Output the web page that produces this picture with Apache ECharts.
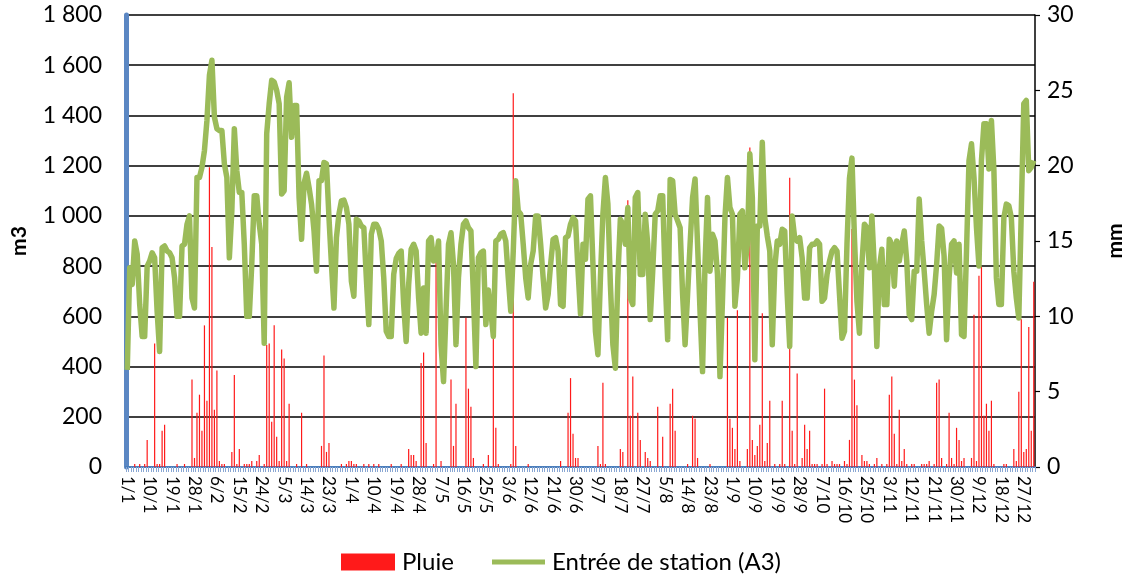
<!DOCTYPE html>
<html>
<head>
<meta charset="utf-8">
<script src="https://cdn.jsdelivr.net/npm/echarts@6/dist/echarts.min.js"></script>
<style>
html,body{margin:0;padding:0;background:#fff;}
#c{width:1134px;height:576px;}
</style>
</head>
<body>
<div id="c"></div>
<script>
// Daily inflow at station entrance (m3), one value per day of a 365-day year
const inflow = [
387, 793, 727, 900, 847, 647, 520, 520, 800, 820,
853, 833, 620, 460, 873, 880, 860, 853, 833, 753,
600, 600, 880, 887, 967, 1000, 673, 633, 1153, 1153,
1193, 1260, 1380, 1560, 1620, 1393, 1347, 1340, 1340, 1207,
1153, 833, 1020, 1347, 1180, 1093, 1093, 887, 600, 600,
807, 1080, 1080, 967, 887, 493, 1327, 1447, 1540, 1533,
1500, 1447, 1087, 1100, 1473, 1530, 1313, 1440, 1440, 1073,
907, 1130, 1170, 1113, 1047, 940, 780, 1140, 1140, 1213,
1207, 993, 807, 633, 913, 1007, 1060, 1063, 1033, 967,
740, 680, 987, 980, 960, 953, 753, 567, 927, 967,
967, 947, 900, 753, 540, 520, 520, 767, 830, 850,
860, 647, 500, 727, 867, 887, 860, 673, 533, 713,
533, 900, 913, 820, 827, 900, 487, 340, 620, 887,
933, 807, 487, 753, 887, 967, 980, 953, 940, 687,
400, 833, 853, 860, 567, 705, 620, 520, 900, 907,
927, 933, 900, 753, 620, 860, 1140, 1020, 1007, 887,
753, 673, 807, 860, 1000, 1000, 887, 753, 633, 687,
807, 907, 913, 860, 647, 640, 913, 920, 967, 993,
980, 785, 610, 887, 827, 1067, 1080, 807, 540, 447,
753, 1007, 1153, 1047, 727, 487, 393, 753, 987, 967,
887, 1033, 673, 647, 1073, 1093, 767, 767, 1007, 887,
587, 780, 1007, 1020, 1080, 1080, 753, 507, 1145, 1140,
1007, 980, 953, 687, 487, 687, 887, 1073, 1147, 887,
620, 380, 807, 1073, 780, 927, 900, 767, 360, 660,
993, 1153, 1033, 1007, 640, 753, 1007, 1020, 793, 887,
1247, 1073, 427, 960, 960, 1293, 993, 920, 860, 487,
793, 900, 887, 947, 940, 687, 480, 1000, 913, 900,
913, 833, 673, 673, 873, 887, 887, 900, 887, 660,
673, 767, 820, 860, 873, 860, 687, 513, 540, 887,
1150, 1230, 913, 660, 533, 807, 967, 953, 793, 1000,
793, 480, 793, 867, 647, 647, 907, 887, 720, 900,
820, 887, 940, 820, 607, 587, 780, 780, 1067, 900,
780, 647, 533, 620, 687, 807, 960, 950, 840, 507,
753, 887, 900, 773, 887, 527, 520, 860, 1220, 1287,
1153, 953, 800, 1220, 1367, 1367, 1187, 1380, 1180, 753,
647, 647, 993, 1047, 1040, 993, 780, 673, 593, 1020,
1447, 1460, 1180, 1193, 1220
];

// Rain (mm): [day index, mm] for each rainy day; all other days had no bar
const rainEvents = [
[3,0.2],[5,0.2],[7,0.2],[8,1.8],[11,8.2],[12,0.2],[13,0.2],[14,2.4],[15,2.8],[20,0.2],
[23,0.2],[26,5.8],[27,0.6],[28,3.6],[29,4.8],[30,2.4],[31,9.4],[32,4.4],[33,19.9],[34,14.6],
[35,3.8],[36,6.4],[37,0.4],[38,0.2],[39,0.2],[42,1.0],[43,6.1],[44,0.2],[45,1.2],[47,0.2],
[48,0.2],[49,0.2],[50,0.4],[52,0.4],[53,0.8],[55,0.2],[56,8.1],[57,8.2],[58,3.0],[59,9.4],
[60,2.0],[61,0.4],[62,7.8],[63,7.2],[64,0.4],[65,4.2],[68,0.2],[70,3.6],[72,0.2],[78,1.4],
[79,7.4],[80,1.0],[81,1.6],[86,0.2],[88,0.2],[89,0.4],[90,0.4],[91,0.2],[92,0.2],[95,0.2],
[97,0.2],[99,0.2],[101,0.2],[106,0.2],[110,0.2],[113,1.2],[114,0.8],[115,0.8],[116,0.4],[118,6.9],
[119,7.6],[120,1.6],[123,0.2],[124,13.7],[126,0.4],[130,5.8],[131,1.4],[132,4.2],[136,9.9],[137,5.2],
[138,4.0],[139,0.6],[143,0.2],[145,0.8],[147,8.6],[148,2.6],[149,0.2],[154,0.2],[155,24.8],[156,1.4],
[161,0.2],[174,0.4],[177,3.6],[178,5.9],[179,2.2],[180,0.6],[181,0.6],[189,1.4],[190,0.2],[191,5.6],
[192,0.2],[198,1.2],[199,1.0],[201,17.7],[202,3.4],[203,6.0],[205,3.6],[206,1.8],[208,1.0],[209,0.6],
[210,0.4],[213,4.0],[215,2.0],[218,4.2],[219,5.2],[220,2.4],[225,0.2],[227,3.4],[228,3.2],[229,0.6],
[234,0.2],[241,9.9],[242,3.2],[243,2.6],[244,1.2],[245,10.4],[246,0.4],[249,1.2],[250,21.2],[251,1.8],
[252,0.8],[253,1.4],[254,2.8],[255,10.2],[256,0.4],[257,1.6],[258,4.4],[260,0.2],[262,0.2],[263,4.4],
[264,0.2],[266,19.2],[267,2.4],[268,0.2],[269,6.2],[271,0.6],[272,2.8],[273,1.2],[274,2.4],[275,0.2],
[276,0.2],[277,0.2],[279,0.2],[280,5.2],[281,0.2],[283,0.4],[284,0.2],[285,0.2],[286,0.2],[288,0.4],
[289,0.2],[290,1.8],[291,15.8],[292,5.8],[293,4.1],[295,0.8],[296,0.4],[297,0.4],[298,0.2],[300,0.2],
[301,0.6],[303,0.2],[305,0.2],[306,4.8],[307,6.0],[308,2.2],[309,0.2],[310,3.8],[311,0.4],[312,1.2],
[313,0.2],[315,0.2],[316,0.2],[319,0.2],[320,0.2],[321,0.2],[322,0.4],[324,0.2],[325,5.6],[326,5.8],
[327,0.6],[329,0.2],[330,3.6],[331,0.6],[332,0.2],[333,2.6],[334,1.8],[335,0.4],[336,0.6],[339,0.6],
[340,10.1],[341,0.4],[342,12.7],[343,13.3],[344,3.4],[345,4.2],[346,2.4],[347,4.4],[348,0.2],[352,0.2],
[353,0.2],[356,1.2],[357,0.4],[358,5.0],[359,9.8],[360,1.0],[361,1.2],[362,9.3],[363,2.4],[364,12.3]
];

const leftTickLabels = ['0','200','400','600','800','1 000','1 200','1 400','1 600','1 800'];
const rightTickLabels = ['0','5','10','15','20','25','30'];
const seriesNames = ['Pluie', 'Entrée de station (A3)'];

// categories: every day of a non-leap year as d/m
const days = [];
for (let i = 0; i < 365; i++) {
  const dt = new Date(Date.UTC(2013, 0, 1 + i));
  days.push(dt.getUTCDate() + '/' + (dt.getUTCMonth() + 1));
}
const rain = days.map(() => 0);
rainEvents.forEach(([d, v]) => { rain[d] = v; });

const FONT = 'Lato, "Open Sans", "Liberation Sans", sans-serif';
const chart = echarts.init(document.getElementById('c'), null, {renderer: 'canvas'});
chart.setOption({
  animation: false,
  backgroundColor: '#ffffff',
  textStyle: {fontFamily: FONT, color: '#000'},
  grid: {left: 126, right: 96, top: 15, bottom: 109, containLabel: false},
  legend: [
    {data: [{name: seriesNames[0], icon: 'rect'}], left: 341, top: 550, padding: 0,
     itemWidth: 54, itemHeight: 17, itemGap: 0,
     textStyle: {fontFamily: FONT, fontSize: 24, color: '#000', padding: [0,0,0,2]}},
    {data: [{name: seriesNames[1], icon: 'rect'}], left: 492, top: 550, padding: 0,
     itemWidth: 53, itemHeight: 5, itemGap: 0,
     textStyle: {fontFamily: FONT, fontSize: 24, color: '#000', padding: [0,0,0,2]}}
  ],
  xAxis: {
    type: 'category',
    data: days,
    boundaryGap: true,
    axisLine: {show: true, lineStyle: {color: '#4a7ebb', width: 2}},
    axisTick: {show: true, interval: 0, length: 5, lineStyle: {color: '#8aa7d3', width: 1}},
    axisLabel: {interval: 8, rotate: -90, fontSize: 17, margin: 9, color: '#000', fontFamily: FONT},
    splitLine: {show: false}
  },
  yAxis: [
    {
      type: 'value', min: 0, max: 1800, interval: 200, position: 'left',
      name: 'm3', nameLocation: 'middle', nameRotate: 90, nameGap: 96,
      nameTextStyle: {fontFamily: FONT, fontSize: 21, fontWeight: 'bold', color: '#000'},
      axisLine: {show: true, lineStyle: {color: '#5b87c3', width: 5}},
      axisTick: {show: false},
      axisLabel: {fontSize: 23, margin: 24, color: '#000', fontFamily: FONT,
        formatter: v => leftTickLabels[Math.round(v / 200)]},
      splitLine: {show: true, lineStyle: {color: '#000', width: 1.5}}
    },
    {
      type: 'value', min: 0, max: 30, interval: 5, position: 'right',
      name: 'mm', nameLocation: 'middle', nameRotate: 90, nameGap: 70,
      nameTextStyle: {fontFamily: FONT, fontSize: 21, fontWeight: 'bold', color: '#000'},
      axisLine: {show: true, lineStyle: {color: '#000', width: 1.5}},
      axisTick: {show: true, inside: false, length: 5, lineStyle: {color: '#000', width: 1.2}},
      axisLabel: {fontSize: 23, margin: 12, color: '#000', fontFamily: FONT,
        formatter: v => rightTickLabels[Math.round(v / 5)]},
      splitLine: {show: false}
    }
  ],
  series: [
    {
      name: seriesNames[0], type: 'bar', yAxisIndex: 1, data: rain,
      barWidth: 1.2, itemStyle: {color: '#ff1a1a'}, z: 2
    },
    {
      name: seriesNames[1], type: 'line', yAxisIndex: 0, data: inflow,
      symbol: 'none', lineStyle: {color: '#9bbb59', width: 5.5, join: 'round'},
      itemStyle: {color: '#9bbb59'}, z: 3
    }
  ]
});
</script>
</body>
</html>
